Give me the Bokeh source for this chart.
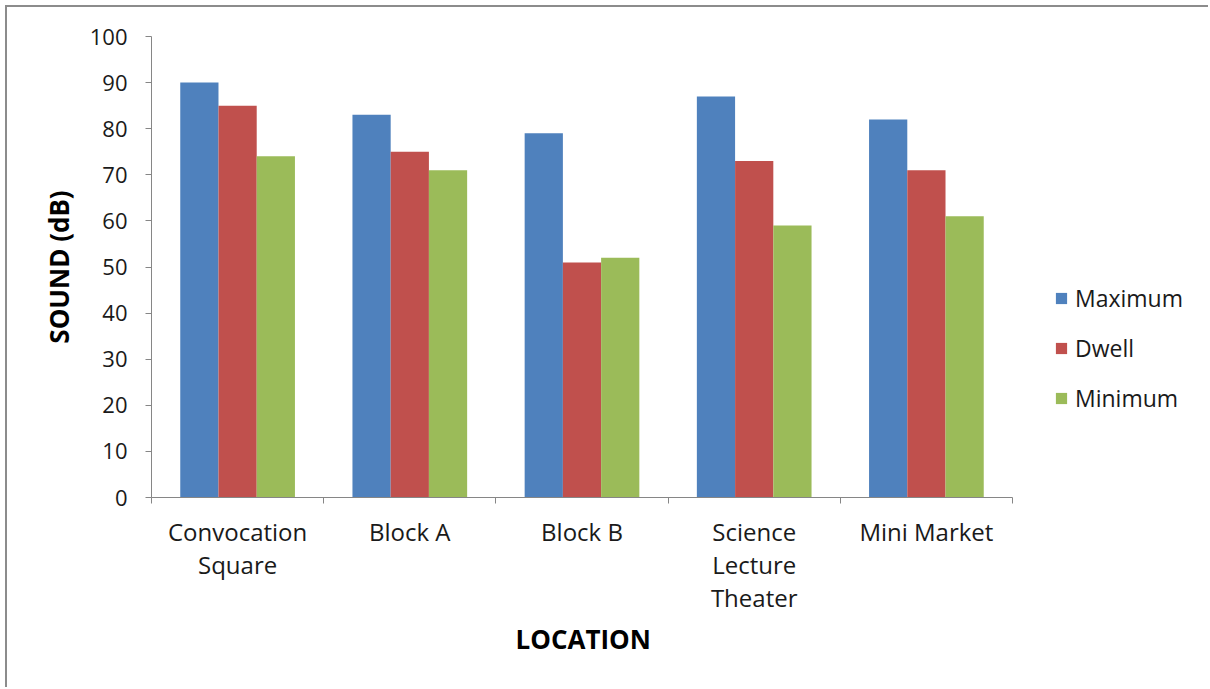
from bokeh.plotting import figure
from bokeh.models import (ColumnDataSource, Range1d, FixedTicker, SingleIntervalTicker,
                          Legend, LegendItem, Title)
from bokeh.transform import dodge
from bokeh.embed import file_html
from bokeh.resources import INLINE

categories = ["Convocation\nSquare", "Block A", "Block B", "Science\nLecture\nTheater", "Mini Market"]
maximum = [90, 83, 79, 87, 82]
dwell = [85, 75, 51, 73, 71]
minimum = [74, 71, 52, 59, 61]
series_names = ["Maximum", "Dwell", "Minimum"]
colors = ["#4F81BD", "#C0504D", "#9BBB59"]

FONT = "Open Sans"
n = len(categories)
x_pos = list(range(n))
src = ColumnDataSource(dict(x=x_pos, Maximum=maximum, Dwell=dwell, Minimum=minimum))

# frame spans from page x=151 to the right edge; axis itself is bounded to the categories
cat_px = (1012 - 151) / n
x_end = -0.5 + (1210 - 151) / cat_px

p = figure(width=1203, height=682, output_backend="svg", toolbar_location=None,
           x_range=Range1d(-0.5, x_end), y_range=Range1d(0, 100),
           min_border_left=144, min_border_right=0, min_border_top=29, min_border_bottom=192,
           margin=(5, 0, 0, 5),
           styles={"border-top": "2px solid #8c8c8c", "border-left": "2px solid #8c8c8c"})
p.outline_line_color = None
p.grid.visible = False
p.background_fill_color = "white"
p.border_fill_color = "white"

bw = 0.222
renderers = []
for i, (name, col) in enumerate(zip(series_names, colors)):
    r = p.vbar(x=dodge("x", (i - 1) * bw, range=p.x_range), top=name, width=bw,
               source=src, fill_color=col, line_color=None)
    renderers.append(r)

# x axis
xa = p.xaxis[0]
xa.bounds = (-0.5, n - 0.5)
xa.ticker = FixedTicker(ticks=x_pos, minor_ticks=[k - 0.5 for k in range(n + 1)])
xa.major_label_overrides = {k: c for k, c in zip(x_pos, categories)}
xa.major_tick_line_color = None
xa.major_tick_out = 0
xa.major_tick_in = 0
xa.minor_tick_line_color = "#868686"
xa.minor_tick_out = 6
xa.minor_tick_in = 0
xa.axis_line_color = "#868686"
xa.major_label_text_font = FONT
xa.major_label_text_font_size = "24px"
xa.major_label_text_color = "#1a1a1a"
xa.major_label_text_line_height = 1.0
xa.major_label_standoff = 11

# x axis title, placed under the middle of the category axis (not the wider frame)
x_title = Title(text="LOCATION", align="left", offset=364,
                text_font=FONT, text_font_style="bold", text_font_size="26px",
                text_color="#000000", standoff=4)
p.add_layout(x_title, "below")

ya = p.yaxis[0]
ya.ticker = SingleIntervalTicker(interval=10)
ya.minor_tick_line_color = None
ya.major_tick_out = 6
ya.major_tick_in = 0
ya.major_tick_line_color = "#868686"
ya.axis_line_color = "#868686"
ya.major_label_text_font = FONT
ya.major_label_text_font_size = "22px"
ya.major_label_text_color = "#1a1a1a"
ya.major_label_standoff = 18
ya.axis_label = "SOUND (dB)"
ya.axis_label_text_font = FONT
ya.axis_label_text_font_style = "bold"
ya.axis_label_text_font_size = "26px"
ya.axis_label_text_color = "#000000"
ya.axis_label_standoff = 10

legend = Legend(items=[LegendItem(label=s, renderers=[r]) for s, r in zip(series_names, renderers)],
                location=(903, 83), border_line_color=None, background_fill_alpha=0,
                padding=0, margin=0, spacing=18, glyph_width=14, glyph_height=14,
                label_standoff=7, label_text_font=FONT, label_text_font_size="23px",
                label_text_color="#1a1a1a")
p.add_layout(legend, "center")

open("out.html", "w").write(file_html(p, INLINE))
